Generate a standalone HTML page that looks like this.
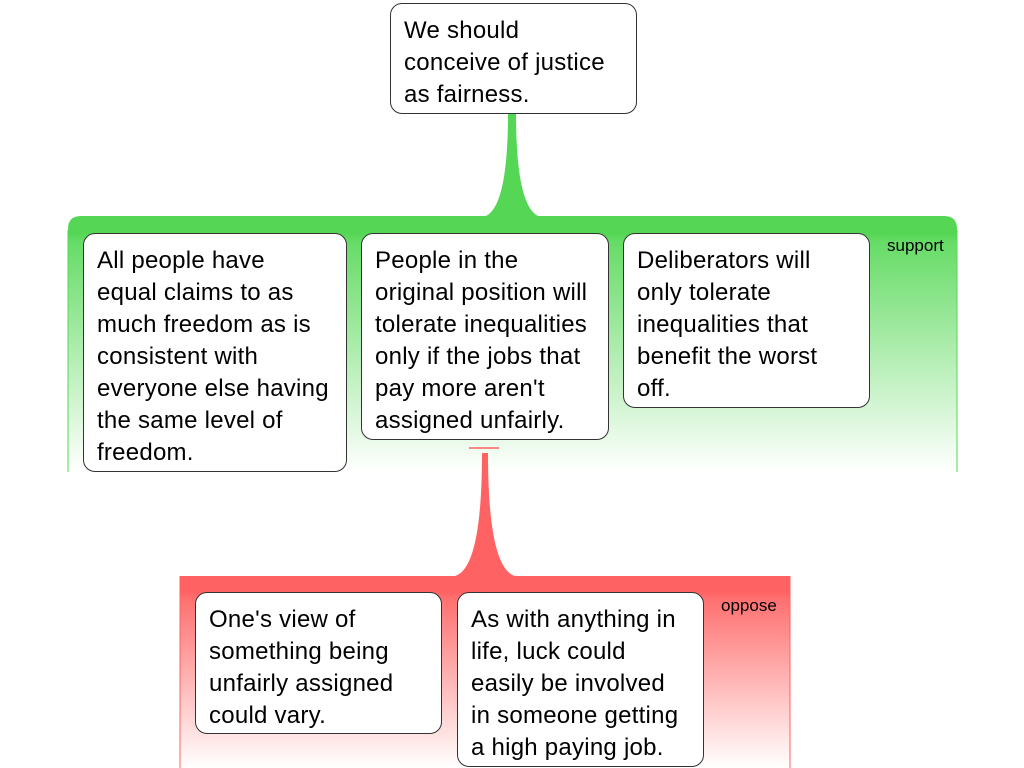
<!DOCTYPE html>
<html><head><style>
body{margin:0;width:1024px;height:768px;overflow:hidden;background:#fff;position:relative;font-family:"Liberation Sans",sans-serif}
.b{position:absolute;box-sizing:border-box;background:#fff;border:1px solid #333;border-radius:12px;padding:11px 13px;font-size:24px;letter-spacing:0.25px;line-height:32px;color:#000;white-space:nowrap}
.lab{position:absolute;font-size:17px;color:#000}
</style></head><body>
<svg width="1024" height="768" style="position:absolute;left:0;top:0">
<defs>
<linearGradient id="g" x1="0" y1="0" x2="0" y2="1">
<stop offset="0" stop-color="#55d655"/><stop offset="0.07" stop-color="#55d655"/><stop offset="0.1" stop-color="#66dc66"/><stop offset="1" stop-color="#fff"/></linearGradient>
<linearGradient id="r" x1="0" y1="0" x2="0" y2="1">
<stop offset="0" stop-color="#ff6262"/><stop offset="0.08" stop-color="#ff6262"/><stop offset="0.12" stop-color="#ff7070"/><stop offset="1" stop-color="#fff"/></linearGradient>
</defs>
<path d="M68,472 V229 Q68,216 81,216 H944 Q957,216 957,229 V472 Z" fill="url(#g)"/>
<path d="M68,230 V472 M957,230 V472" stroke="#55d655" stroke-width="1"/>
<path d="M508,113 H516 Q516,205 538,216 H486 Q508,205 508,113 Z" fill="#55d655"/>
<path d="M180,768 V576 H790 V768 Z" fill="url(#r)"/>
<path d="M180,576 V768 M790,576 V768" stroke="#ff6262" stroke-width="1"/>
<path d="M482,453 H488 Q488,568 515,576 H455 Q482,568 482,453 Z" fill="#ff6262"/>
<path d="M469,448 H499" stroke="#ff6262" stroke-width="1.5"/>
</svg>
<div class="b" style="left:390px;top:3px;width:247px;height:111px">We should<br>conceive of justice<br>as fairness.</div>
<div class="lab" style="left:887px;top:236px">support</div>
<div class="b" style="left:83px;top:233px;width:264px;height:239px">All people have<br>equal claims to as<br>much freedom as is<br>consistent with<br>everyone else having<br>the same level of<br>freedom.</div>
<div class="b" style="left:361px;top:233px;width:248px;height:207px">People in the<br>original position will<br>tolerate inequalities<br>only if the jobs that<br>pay more aren't<br>assigned unfairly.</div>
<div class="b" style="left:623px;top:233px;width:247px;height:175px">Deliberators will<br>only tolerate<br>inequalities that<br>benefit the worst<br>off.</div>
<div class="lab" style="left:721px;top:596px">oppose</div>
<div class="b" style="left:195px;top:592px;width:247px;height:142px">One's view of<br>something being<br>unfairly assigned<br>could vary.</div>
<div class="b" style="left:457px;top:592px;width:247px;height:175px">As with anything in<br>life, luck could<br>easily be involved<br>in someone getting<br>a high paying job.</div>
</body></html>
